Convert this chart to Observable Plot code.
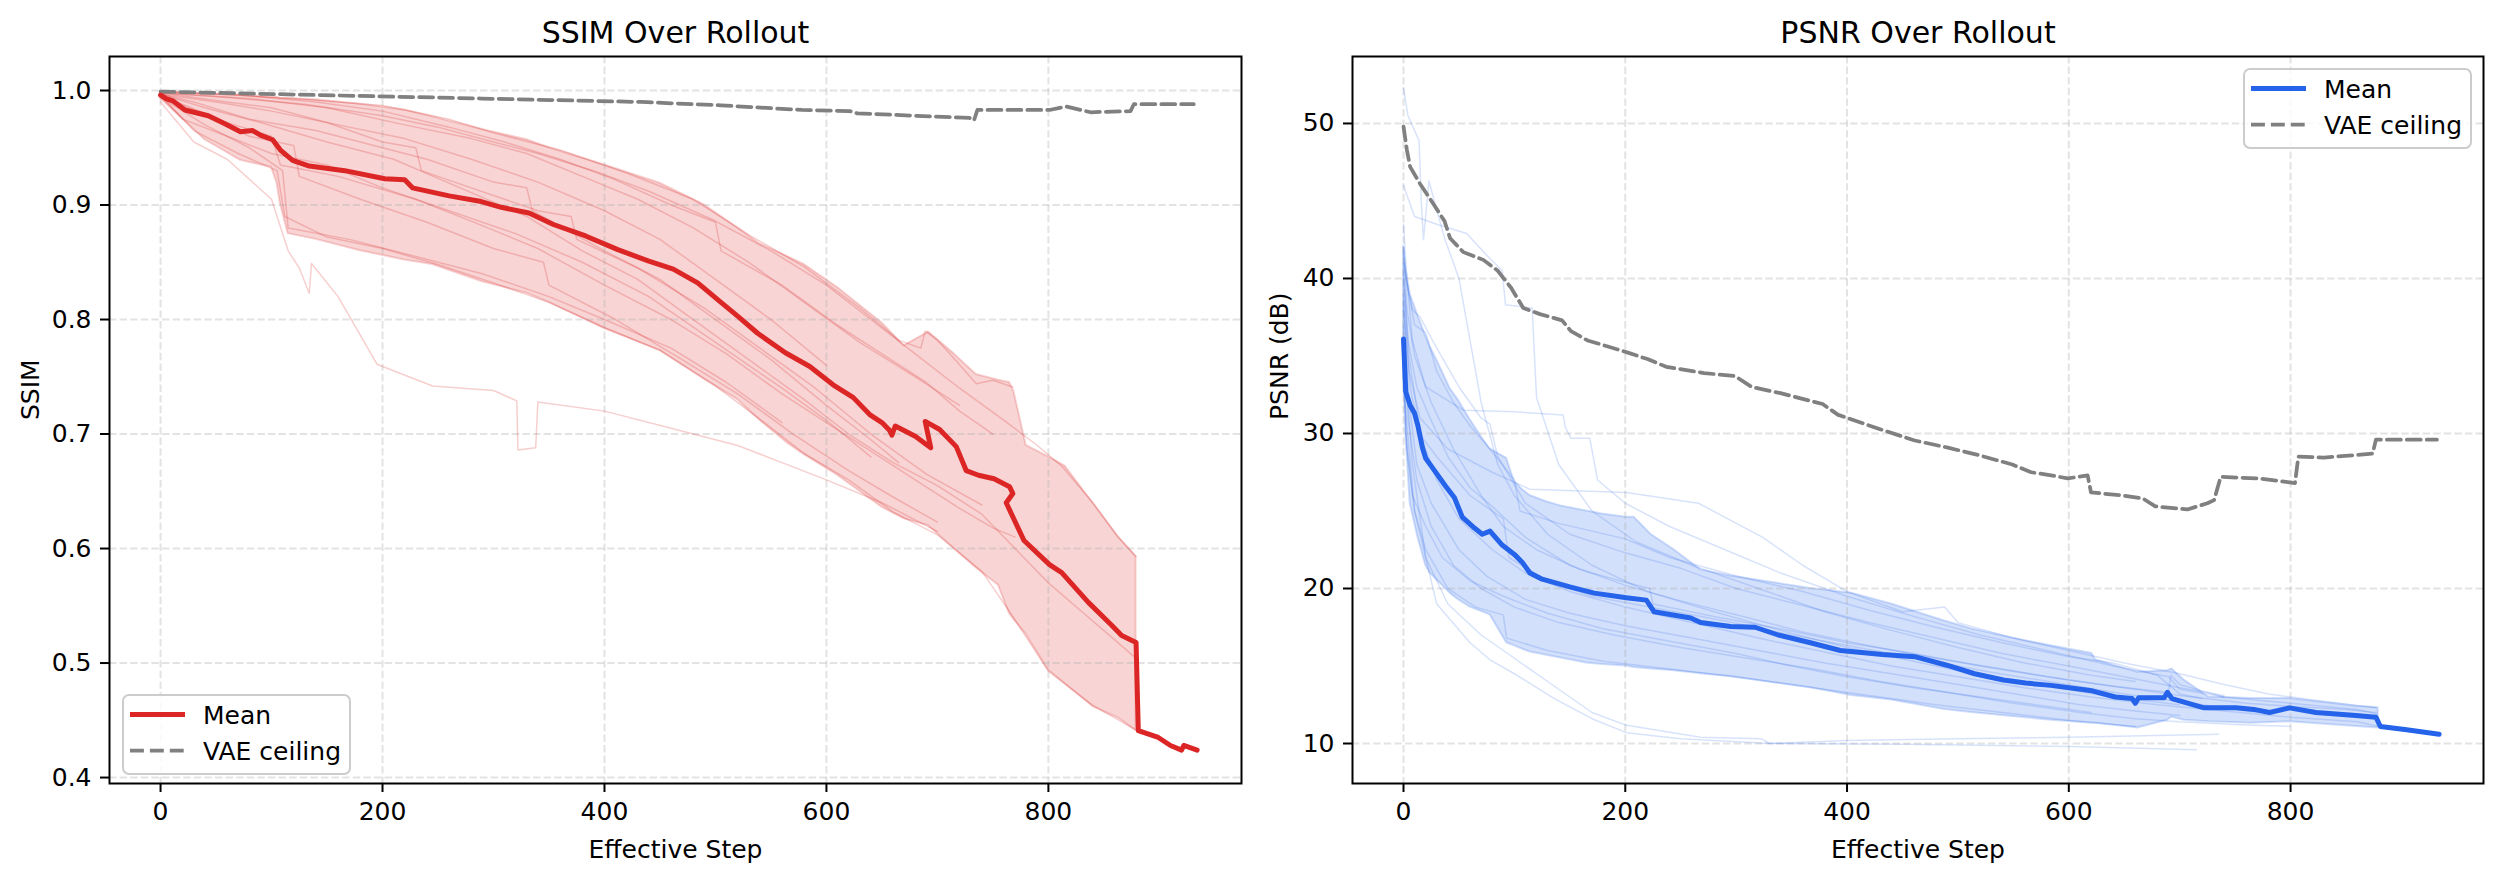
<!DOCTYPE html>
<html>
<head>
<meta charset="utf-8">
<script src="https://cdn.jsdelivr.net/npm/d3@7"></script>
<script src="https://cdn.jsdelivr.net/npm/@observablehq/plot@0.6"></script>
<style>
  html, body { margin: 0; padding: 0; background: #fff; }
  #chart { position: relative; width: 2501px; height: 877px; overflow: hidden; font-family: "DejaVu Sans", sans-serif; }
  #chart > * { position: absolute; }
</style>
</head>
<body>
<div id="chart"></div>
<script>
// ---------- shared axis ticks ----------
const stepTicks = [0, 200, 400, 600, 800];
const ssimTicks = [0.4, 0.5, 0.6, 0.7, 0.8, 0.9, 1.0];
const psnrTicks = [10, 20, 30, 40, 50];

// ---------- SSIM ----------
const ssimMeanStep = [0,5,11,22,43,58,72,83,90,101,108,119,134,166,202,220,227,260,289,307,332,354,383,412,440,462,484,505,520,538,563,585,606,624,639,650,657,659,662,680,694,689,702,717,726,737,751,765,768,762,778,801,812,836,857,866,879,881,899,910,920,922,934];
const ssimMean = [0.996,0.993,0.991,0.983,0.978,0.971,0.964,0.965,0.961,0.957,0.948,0.939,0.934,0.930,0.923,0.922,0.915,0.908,0.903,0.898,0.893,0.883,0.873,0.861,0.851,0.844,0.832,0.815,0.803,0.788,0.771,0.759,0.743,0.732,0.717,0.710,0.703,0.699,0.707,0.698,0.688,0.711,0.704,0.689,0.668,0.664,0.661,0.654,0.648,0.640,0.607,0.586,0.579,0.553,0.533,0.524,0.518,0.441,0.435,0.428,0.424,0.428,0.424];

const ssimVaeStep = [0,144,289,433,505,578,621,628,679,729,733,736,801,816,838,874,877,931];
const ssimVae = [0.999,0.996,0.993,0.990,0.987,0.983,0.982,0.980,0.978,0.976,0.974,0.983,0.983,0.986,0.981,0.982,0.988,0.988];

const ssimBandStep = [0,20,40,72,100,105,108,115,140,180,220,245,290,330,350,400,450,490,520,540,565,580,610,650,670,692,715,735,755,765,769,780,800,815,840,863,879];
const ssimBandHigh = [0.999,0.998,0.997,0.996,0.994,0.994,0.993,0.993,0.992,0.988,0.983,0.977,0.966,0.957,0.950,0.935,0.919,0.900,0.880,0.866,0.855,0.848,0.828,0.797,0.777,0.789,0.770,0.752,0.747,0.745,0.737,0.690,0.680,0.672,0.640,0.610,0.593];
const ssimBandLow = [0.993,0.975,0.957,0.939,0.933,0.919,0.901,0.875,0.870,0.860,0.852,0.848,0.833,0.823,0.815,0.792,0.773,0.748,0.730,0.712,0.692,0.682,0.664,0.636,0.626,0.620,0.600,0.583,0.568,0.543,0.538,0.525,0.494,0.482,0.462,0.452,0.441];

// individual rollouts, [step, ssim]
const ssimRuns = [
  [[0,.999],[50,.997],[120,.993],[200,.987],[260,.975],[300,.963],[360,.948],[420,.928],[480,.905],[530,.874],[580,.846],[630,.81],[665,.782],[685,.775],[689,.79],[700,.782],[715,.766],[735,.744],[750,.747],[768,.741]],
  [[0,.998],[60,.994],[130,.988],[200,.978],[250,.968],[300,.955],[340,.945],[390,.93],[440,.912],[500,.886],[550,.86],[600,.83],[640,.80],[680,.77],[720,.74],[760,.712],[790,.69],[812,.672],[840,.64],[863,.61],[879,.593]],
  [[0,.996],[30,.965],[70,.945],[105,.93],[112,.89],[150,.872],[200,.862],[250,.848],[300,.832],[350,.815],[400,.793],[450,.773],[500,.742],[540,.713],[580,.683],[620,.66],[660,.632],[700,.612],[740,.58],[765,.545],[800,.493],[840,.463],[880,.441],[899,.435],[910,.428],[920,.424],[922,.428],[934,.424]],
  [[0,.997],[40,.985],[90,.972],[150,.955],[210,.94],[270,.915],[330,.89],[380,.86],[430,.835],[480,.80],[530,.765],[580,.73],[620,.70],[660,.675],[700,.655],[740,.63],[770,.60],[800,.57],[830,.545],[860,.52],[878,.505]],
  [[0,.995],[50,.975],[100,.96],[108,.935],[160,.925],[230,.905],[290,.882],[340,.862],[400,.83],[460,.80],[510,.77],[560,.735],[600,.71],[640,.685],[680,.66],[720,.635],[750,.618],[770,.61]],
  [[0,.998],[60,.99],[100,.985],[150,.972],[200,.955],[230,.95],[235,.93],[280,.915],[340,.895],[370,.89],[375,.87],[430,.845],[490,.81],[540,.775],[590,.74],[640,.70],[690,.665],[740,.638]],
  [[0,.996],[40,.98],[80,.96],[120,.952],[125,.925],[180,.905],[240,.885],[300,.862],[345,.85],[350,.83],[410,.80],[470,.765],[520,.735],[570,.70],[620,.668],[660,.645],[700,.623]],
  [[0,.997],[30,.99],[80,.975],[140,.965],[200,.95],[240,.94],[300,.92],[330,.915],[335,.895],[400,.86],[450,.835],[500,.80],[550,.765],[600,.725],[640,.695],[665,.675]],
  [[0,.99],[30,.955],[60,.94],[100,.905],[115,.86],[125,.845],[134,.823],[136,.849],[160,.82],[195,.761],[245,.742],[300,.738],[321,.729],[322,.686],[338,.688],[340,.728],[400,.72],[460,.705],[520,.69],[560,.675],[600,.66],[650,.64],[700,.615]],
  [[0,.997],[50,.99],[100,.982],[160,.97],[220,.958],[280,.94],[340,.92],[400,.895],[450,.87],[500,.835],[550,.80],[600,.76]],
  [[0,.995],[20,.975],[60,.96],[100,.945],[150,.935],[200,.915],[260,.895],[320,.875],[380,.85],[440,.82],[500,.78],[560,.74],[600,.712],[640,.68]],
  [[0,.998],[80,.993],[150,.985],[220,.97],[280,.958],[330,.945],[380,.925],[430,.905],[480,.88],[530,.85],[580,.815],[630,.78],[680,.75],[720,.725]],
  [[0,.994],[40,.97],[80,.95],[110,.93],[115,.88],[170,.87],[230,.855],[290,.84],[350,.82],[400,.80],[460,.775],[510,.745],[560,.71]],
  [[0,.999],[70,.996],[140,.99],[200,.982],[260,.968],[310,.955],[360,.94],[410,.922],[460,.90],[500,.885],[505,.86],[560,.83],[610,.795],[650,.77],[690,.745],[720,.72],[750,.70]]
];

// ---------- PSNR ----------
const psnrMeanStep = [0,2,6,10,13,17,20,27,38,46,53,64,71,78,89,100,107,114,125,150,172,201,219,226,259,268,295,317,338,367,394,432,461,490,515,541,561,584,621,642,657,660,663,686,689,693,700,722,731,751,767,781,799,823,859,877,881,903,934];
const psnrMean = [36.1,32.7,31.8,31.3,30.5,29.1,28.4,27.7,26.6,25.85,24.6,23.9,23.5,23.7,22.8,22.2,21.7,21.0,20.6,20.1,19.7,19.4,19.25,18.5,18.1,17.8,17.55,17.5,17.0,16.5,16.0,15.74,15.6,15.05,14.5,14.1,13.9,13.75,13.4,13.0,12.9,12.6,12.95,12.95,13.3,12.9,12.75,12.3,12.3,12.3,12.2,12.0,12.3,12.0,11.8,11.7,11.1,10.9,10.6];

const psnrVaeStep = [0,3,6,15,27,37,42,54,72,85,97,108,123,143,151,166,185,203,220,237,271,299,314,340,378,392,433,461,490,519,549,566,584,599,617,620,649,667,678,707,725,731,737,772,804,807,830,874,877,932];
const psnrVae = [49.8,48.3,47.2,46.1,44.8,43.7,42.6,41.7,41.2,40.5,39.4,38.1,37.7,37.3,36.6,36.0,35.6,35.2,34.8,34.3,33.9,33.7,33.0,32.6,31.9,31.2,30.2,29.55,29.1,28.6,28.0,27.5,27.3,27.1,27.3,26.2,26.0,25.8,25.3,25.1,25.5,25.7,27.2,27.1,26.8,28.5,28.45,28.7,29.6,29.6];

const psnrBandStep = [0,2,6,13,20,24,31,42,49,60,71,78,93,100,107,114,129,143,165,179,201,208,223,244,268,295,331,367,404,440,488,512,549,584,621,624,657,662,689,693,704,726,765,799,859,879];
const psnrBandHigh = [42.1,40.8,39.0,37.6,36.3,35.6,34.6,32.9,32.2,30.9,29.7,29.0,28.4,26.9,26.4,26.0,25.6,25.3,25.0,24.8,24.6,24.6,23.5,22.5,21.2,20.8,20.4,20.0,19.7,19.0,17.9,17.4,16.8,16.3,15.8,15.4,14.7,14.6,14.7,14.8,14.1,13.0,12.9,12.9,12.4,12.3];
const psnrBandLow = [34.0,30.0,25.5,23.3,21.5,21.0,20.5,19.7,19.3,18.8,18.5,18.3,16.5,16.3,16.1,15.9,15.7,15.5,15.2,15.1,15.0,14.9,14.8,14.7,14.5,14.3,13.95,13.6,13.1,12.8,12.2,12.0,11.75,11.5,11.3,11.3,11.05,11.0,11.5,11.7,11.5,11.4,11.3,11.4,11.1,11.0];

// individual rollouts, [step, psnr]
const psnrRuns = [
  [[0,52.3],[4,50.5],[14,48.9],[16,45],[18,42.5],[23,46.3],[27,45.2],[37,42.6],[50,40],[60,36],[70,32],[85,28],[100,26],[130,23.5],[170,21.5],[220,19.8],[280,18.5],[340,17.3],[400,16.2],[460,15.3],[520,14.4],[580,13.7],[640,13],[700,12.5]],
  [[0,46],[10,44],[30,43.5],[57,42.9],[75,41.5],[89,40.5],[92,38.3],[116,38.1],[120,32.3],[140,28],[170,25],[210,23],[260,21.5],[320,20],[380,18.5],[440,17.3],[500,16.2],[560,15.2],[620,14.4],[660,14]],
  [[0,43.5],[3,40],[8,36],[20,33],[54,31.5],[100,31.4],[144,31.2],[146,30.4],[151,29.7],[168,29.7],[175,27],[200,25.5],[240,24],[290,22.5],[340,21],[400,19.5],[460,18.2],[520,17],[580,16],[640,15],[690,14.3],[700,13.5],[740,13]],
  [[0,38],[5,34],[15,31],[40,29],[80,27.5],[114,26.4],[201,26.2],[266,25.5],[324,23.3],[360,21.5],[400,19.8],[450,18.5],[488,18.8],[500,17.8],[550,16.8],[600,16],[650,15.2],[700,14.5],[740,13.8],[780,13.2],[820,12.8],[877,12.3]],
  [[0,33],[10,25],[30,19],[60,16.5],[78,15.4],[100,14.5],[136,12.9],[170,11.6],[201,10.7],[250,10.3],[331,10.0],[450,9.95],[600,9.8],[715,9.6]],
  [[0,36],[8,28],[20,22],[40,19],[70,17],[100,15.5],[130,14],[170,12],[200,11.2],[268,10.4],[323,10.3],[330,10.0],[400,10.2],[500,10.3],[600,10.4],[735,10.6]],
  [[0,40],[5,35],[15,30],[30,27],[50,24.5],[80,22.5],[110,21],[150,19.8],[200,18.8],[260,17.8],[320,16.8],[380,15.9],[440,15],[500,14.3],[560,13.6],[620,13],[680,12.5],[740,12.1],[800,11.7],[860,11.4],[880,11.1],[934,10.6]],
  [[0,42],[3,38],[10,35],[25,32],[45,29],[70,26],[90,24],[120,22.5],[160,21.2],[200,20.4],[222,20],[225,19],[280,18.2],[340,17.4],[400,16.5],[460,15.8],[520,15],[580,14.3],[640,13.7],[690,13.3],[692,14.4],[700,13.8],[740,13],[800,12.6],[860,12.2],[878,11.9]],
  [[0,37],[4,31],[12,27],[25,24],[45,21.5],[70,20],[100,18.8],[140,17.8],[190,17],[250,16.2],[310,15.5],[370,14.8],[430,14],[490,13.3],[550,12.6],[610,12],[660,11.6],[700,11.4],[760,11.2],[800,11.1]],
  [[0,39],[6,33],[14,30],[30,28.5],[60,26],[90,24.5],[95,22],[130,20.5],[170,19.5],[230,18.7],[290,17.9],[350,17],[410,16.2],[470,15.4],[530,14.6],[590,13.9],[650,13.2],[700,12.7],[740,12.3],[770,12]],
  [[0,35],[3,29],[10,25],[20,22.5],[40,20],[65,18.8],[90,18.3],[93,16.8],[130,16],[180,15.3],[240,14.8],[300,14.3],[360,13.7],[420,13.1],[480,12.5],[540,12],[600,11.5],[660,11.1]],
  [[0,41],[10,37],[20,36.5],[30,34],[45,32],[60,30.5],[78,29],[100,27],[105,25],[140,24.2],[200,23.2],[240,22],[300,20.8],[360,19.8],[420,18.6],[480,17.5],[540,16.5],[600,15.6],[640,15.2],[680,14.4],[700,13.2],[720,12.9]],
  [[0,36],[2,30],[8,26],[20,24],[35,22],[60,20.5],[90,19.5],[130,18.4],[180,17.4],[240,16.6],[300,15.8],[350,15],[400,14.3],[460,13.6],[520,13],[580,12.4],[620,12]],
  [[0,40.5],[4,36],[12,33],[24,31],[40,28.5],[60,26.5],[80,25.3],[110,23.3],[150,21.5],[200,20.2],[250,19.2],[300,18.3],[360,17.2],[420,16.3],[480,15.5],[540,14.8],[600,14.1],[650,13.6],[700,13.1],[760,12.6],[800,12.4],[850,12.2],[877,12.0]],
  [[0,38.5],[5,32],[12,28],[25,25.5],[50,22.5],[75,20.8],[110,19.3],[150,18.4],[200,17.6],[260,16.8],[320,16],[380,15.2],[440,14.5],[500,13.8],[560,13.1],[610,12.5],[660,12.1],[700,11.8]],
  [[0,42],[2,40],[8,38],[15,37.5],[30,35.5],[50,33],[70,31],[78,30.6],[85,28.5],[110,25.5],[150,23.5],[200,22.3],[250,21.3],[300,20],[360,18.9],[420,17.8],[480,16.8],[540,15.8],[600,15],[650,14.3],[700,13.6],[740,13.1]]
];

// ---------- helpers ----------
const zipSeries = (steps, values) => steps.map((step, i) => ({step, value: values[i]}));
const zipBand = (steps, lo, hi) => steps.map((step, i) => ({step, lo: lo[i], hi: hi[i]}));
const runRows = runs => runs.flatMap((run, r) => run.map(([step, value]) => ({run: r, step, value})));

const RED = "#dc2626";
const BLUE = "#2563eb";
const GRAY = "#808080";
const gridStyle = {stroke: "#b0b0b0", strokeOpacity: 0.35, strokeWidth: 2, strokeDasharray: "7.4,3.2"};

function panel(cfg) {
  return Plot.plot({
    width: cfg.width,
    height: 877,
    marginLeft: cfg.marginLeft,
    marginRight: cfg.marginRight,
    marginTop: 56,
    marginBottom: 94,
    style: {fontFamily: "'DejaVu Sans', sans-serif", fontSize: "25px", color: "#000", background: "transparent", overflow: "visible"},
    x: {domain: [-46, 974]},
    y: {domain: cfg.yDomain},
    marks: [
      Plot.areaY(cfg.band, {x: "step", y1: "lo", y2: "hi", fill: cfg.color, fillOpacity: 0.2, stroke: cfg.color, strokeOpacity: 0.2, strokeWidth: 2}),
      Plot.gridX(stepTicks, gridStyle),
      Plot.gridY(cfg.yTicks, gridStyle),
      Plot.line(cfg.runs, {x: "step", y: "value", z: "run", stroke: cfg.color, strokeOpacity: cfg.runOpacity, strokeWidth: 1.5}),
      Plot.line(cfg.ceiling, {x: "step", y: "value", stroke: GRAY, strokeWidth: 3.75, strokeDasharray: "13.9,6"}),
      Plot.line(cfg.mean, {x: "step", y: "value", stroke: cfg.color, strokeWidth: 5, strokeLinejoin: "round"}),
      Plot.frame({stroke: "#000", strokeWidth: 2}),
      Plot.axisX({ticks: stepTicks, tickSize: 9, tickPadding: 10, strokeWidth: 2, label: null}),
      Plot.axisY({ticks: cfg.yTicks, tickFormat: cfg.yFormat, tickSize: 9, tickPadding: 9, strokeWidth: 2, label: null}),
      Plot.text([cfg.title], {text: d => d, frameAnchor: "top", dy: -14, lineAnchor: "bottom", fontSize: 30}),
      Plot.text(["Effective Step"], {text: d => d, frameAnchor: "bottom", dy: 74, lineAnchor: "bottom", fontSize: 25}),
      Plot.text([cfg.yLabel], {text: d => d, frameAnchor: "left", dx: cfg.labelDx, rotate: -90, fontSize: 25})
    ]
  });
}

function legend(color, left, top) {
  const ns = "http://www.w3.org/2000/svg";
  const svg = document.createElementNS(ns, "svg");
  svg.setAttribute("width", 230);
  svg.setAttribute("height", 82);
  svg.style.left = left + "px";
  svg.style.top = top + "px";
  svg.style.fontFamily = "'DejaVu Sans', sans-serif";
  svg.style.fontSize = "25px";
  svg.innerHTML = `
    <rect x="1" y="1" width="227" height="79" rx="6" fill="#fff" fill-opacity="0.8" stroke="#cccccc" stroke-width="2"/>
    <line x1="8" x2="63" y1="20.5" y2="20.5" stroke="${color}" stroke-width="5"/>
    <text x="81" y="20.5" dy="0.36em" fill="#000">Mean</text>
    <line x1="8" x2="63" y1="56.5" y2="56.5" stroke="${GRAY}" stroke-width="3.75" stroke-dasharray="13.9,6"/>
    <text x="81" y="56.5" dy="0.36em" fill="#000">VAE ceiling</text>`;
  return svg;
}

const chart = document.getElementById("chart");

const left = panel({
  width: 1250, marginLeft: 109, marginRight: 9,
  title: "SSIM Over Rollout", yLabel: "SSIM", labelDx: -79,
  yDomain: [0.3948, 1.0297], yTicks: ssimTicks, yFormat: d3.format(".1f"),
  color: RED, runOpacity: 0.22,
  band: zipBand(ssimBandStep, ssimBandLow, ssimBandHigh),
  mean: zipSeries(ssimMeanStep, ssimMean),
  ceiling: zipSeries(ssimVaeStep, ssimVae),
  runs: runRows(ssimRuns)
});
left.style.left = "0px";
left.style.top = "0px";
chart.appendChild(left);

const right = panel({
  width: 1251, marginLeft: 102, marginRight: 18,
  title: "PSNR Over Rollout", yLabel: "PSNR (dB)", labelDx: -73,
  yDomain: [7.42, 54.32], yTicks: psnrTicks, yFormat: d3.format("d"),
  color: BLUE, runOpacity: 0.18,
  band: zipBand(psnrBandStep, psnrBandLow, psnrBandHigh),
  mean: zipSeries(psnrMeanStep, psnrMean),
  ceiling: zipSeries(psnrVaeStep, psnrVae),
  runs: runRows(psnrRuns)
});
right.style.left = "1250px";
right.style.top = "0px";
chart.appendChild(right);

chart.appendChild(legend(RED, 122, 694));
chart.appendChild(legend(BLUE, 2243, 68));
</script>
</body>
</html>
